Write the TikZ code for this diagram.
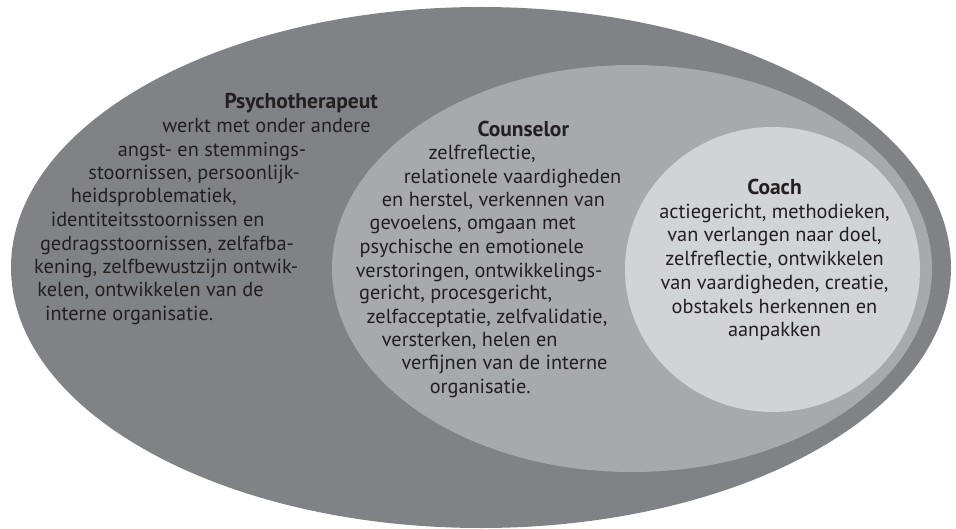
\documentclass[tikz,border=0pt]{standalone}
\usepackage{fontspec}
\setmainfont{PT Sans}
\definecolor{outergray}{RGB}{128,130,133}
\definecolor{midgray}{RGB}{167,169,172}
\definecolor{innergray}{RGB}{209,211,212}
\definecolor{txt}{RGB}{35,31,32}
\begin{document}
\begin{tikzpicture}[x=1pt,y=-1pt,
  ln/.style={anchor=base,inner sep=0pt,text=txt,font=\fontsize{20.3}{24}\selectfont},
  hd/.style={ln,font=\fontsize{21.5}{24}\selectfont\bfseries}]
\useasboundingbox (0,0) rectangle (956,529);
% ellipses
\fill[outergray] (481,267.5) ellipse [x radius=470pt, y radius=260.5pt];
\fill[midgray] (632,268.5) ellipse [x radius=300pt, y radius=203.5pt];
\fill[innergray] (772.5,269.5) ellipse [x radius=147.5pt, y radius=142.5pt];
% Psychotherapeut
\node[hd] (p0) at (301.2,108.7) {Psychotherapeut};
\node[ln] (p1) at (266.5,133) {werkt met onder andere};
\node[ln] (p2) at (212,156.3) {angst- en stemmings-};
\node[ln] (p3) at (194.2,179.7) {stoornissen, persoonlijk-};
\node[ln] (p4) at (153.7,203) {heidsproblematiek,};
\node[ln] (p5) at (157.7,226.3) {identiteitsstoornissen en};
\node[ln] (p6) at (167,250.3) {gedragsstoornissen, zelfafba-};
\node[ln] (p7) at (166.2,273.7) {kening, zelfbewustzijn ontwik-};
\node[ln] (p8) at (150.5,297) {kelen, ontwikkelen van de};
\node[ln] (p9) at (129.2,320.3) {interne organisatie.};
% Counselor
\node[hd] (c0) at (523.3,136.7) {Counselor};
\node[ln] (c1) at (482.2,160) {zelfreflectie,};
\node[ln] (c2) at (512.5,183.3) {relationele vaardigheden};
\node[ln] (c3) at (493.5,206.7) {en herstel, verkennen van};
\node[ln] (c4) at (472.7,230) {gevoelens, omgaan met};
\node[ln] (c5) at (471.8,253.3) {psychische en emotionele};
\node[ln] (c6) at (479.2,277.3) {verstoringen, ontwikkelings-};
\node[ln] (c7) at (455.7,300) {gericht, procesgericht,};
\node[ln] (c8) at (487,323.3) {zelfacceptatie, zelfvalidatie,};
\node[ln] (c9) at (469.7,346.7) {versterken, helen en};
\node[ln] (c10) at (504.5,370) {verfijnen van de interne};
\node[ln] (c11) at (480.3,393.3) {organisatie.};
% Coach
\node[hd] (k0) at (774.5,195) {Coach};
\node[ln] (k1) at (774.5,218.3) {actiegericht, methodieken,};
\node[ln] (k2) at (774.5,241.7) {van verlangen naar doel,};
\node[ln] (k3) at (774.5,266) {zelfreflectie, ontwikkelen};
\node[ln] (k4) at (774.5,289.3) {van vaardigheden, creatie,};
\node[ln] (k5) at (774.5,313.3) {obstakels herkennen en};
\node[ln] (k6) at (774.5,336.7) {aanpakken};
\end{tikzpicture}
\end{document}
